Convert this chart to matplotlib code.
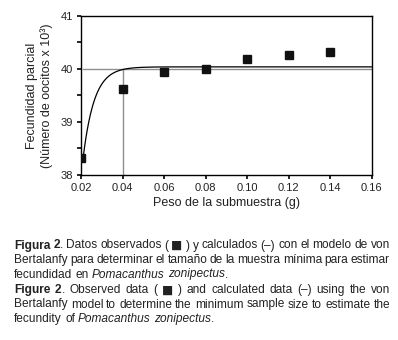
import numpy as np
import matplotlib
matplotlib.use("Agg")
import matplotlib.pyplot as plt
from matplotlib.ticker import MultipleLocator

# ---- data ----
peso = [0.02, 0.04, 0.06, 0.08, 0.10, 0.12, 0.14]
fecundidad = [38.32, 39.63, 39.94, 40.00, 40.19, 40.27, 40.32]
# von Bertalanffy fitted parameters (calculated curve)
L_inf = 40.04
K = 185.0
t0 = 0.0040
curve_start, curve_end = 0.021, 0.16
ref_x = 0.04
ref_y = 40.0
xticks = [0.02, 0.04, 0.06, 0.08, 0.10, 0.12, 0.14, 0.16]
xtick_labels = ["0.02", "0.04", "0.06", "0.08", "0.10", "0.12", "0.14", "0.16"]
yticks = [38, 39, 40, 41]
xlabel = "Peso de la submuestra (g)"
ylabel = "Fecundidad parcial\n(Número de oocitos x 10³)"

FAM = ["Liberation Sans", "DejaVu Sans"]
plt.rcParams["font.family"] = FAM

fig = plt.figure(figsize=(3.98, 3.40), dpi=100)
ax = fig.add_axes([0.2035, 0.4853, 0.9340 - 0.2035, 0.953 - 0.4853])

ax.plot([curve_start, curve_end], [ref_y, ref_y], color="#8f8f8f", lw=1.0, zorder=1)
ax.plot([ref_x, ref_x], [38, ref_y], color="#8f8f8f", lw=1.0, zorder=1)

xc = np.linspace(curve_start, curve_end, 400)
yc = L_inf * (1 - np.exp(-K * (xc - t0)))
ax.plot(xc, yc, color="black", lw=0.9, zorder=2)

ax.plot(peso, fecundidad, linestyle="none", marker="s", markersize=5.6,
        color="#111111", zorder=3)

ax.set_xlim(0.02, 0.16)
ax.set_ylim(38, 41)
ax.set_xticks(xticks)
ax.set_xticklabels(xtick_labels, fontsize=8.0)
ax.set_yticks(yticks)
ax.set_yticklabels([str(v) for v in yticks], fontsize=8.0)
ax.yaxis.set_minor_locator(MultipleLocator(0.5))
ax.tick_params(axis="both", which="both", direction="out", length=3, width=1.2,
               pad=2.5, colors="black", labelcolor="#222222")
for s in ax.spines.values():
    s.set_linewidth(1.0)

ax.set_xlabel(xlabel, fontsize=9.0, labelpad=3, color="#222222")
ax.set_ylabel(ylabel, fontsize=9.0, labelpad=6, linespacing=1.15, color="#222222")

# ---- caption (justified) ----
B = ("bold", "normal", FAM)
N = ("normal", "normal", FAM)
I = ("normal", "italic", FAM)
S = ("normal", "normal", ["DejaVu Sans"])
lines = [
    ([[("Figura", B)], [("2", B), (".", N)], [("Datos", N)], [("observados", N)],
      [("(", N)], [("■", S)], [(")", N)], [("y", N)], [("calculados", N)],
      [("(–)", N)], [("con", N)], [("el", N)], [("modelo", N)], [("de", N)],
      [("von", N)]], True),
    ([[(w, N)] for w in "Bertalanfy para determinar el tamaño de la muestra mínima para estimar".split()], True),
    ([[("fecundidad", N)], [("en", N)], [("Pomacanthus", I)], [("zonipectus", I), (".", N)]], False),
    ([[("Figure", B)], [("2", B), (".", N)], [("Observed", N)], [("data", N)],
      [("(", N)], [("■", S)], [(")", N)], [("and", N)], [("calculated", N)],
      [("data", N)], [("(–)", N)], [("using", N)], [("the", N)], [("von", N)]], True),
    ([[(w, N)] for w in "Bertalanfy model to determine the minimum sample size to estimate the".split()], True),
    ([[("fecundity", N)], [("of", N)], [("Pomacanthus", I)], [("zonipectus", I), (".", N)]], False),
]
line_y = [245.5, 260.0, 274.5, 290.0, 304.5, 319.0]
x_left, x_right = 14.0, 390.0
W, H = 398.0, 340.0

fig.canvas.draw()
renderer = fig.canvas.get_renderer()

def px(x, y):
    return x / W, 1 - y / H

def measure(txt, wt, st, fam, size):
    t = fig.text(0, 0, txt, fontsize=size, weight=wt, style=st, family=fam)
    w = t.get_window_extent(renderer).width
    t.remove()
    return w

ref_size = 10.0
min_gap = 2.2
fs = 9.0
for words, justify in lines:
    if not justify:
        continue
    wsum = sum(measure(txt, *sty, ref_size) for word in words for txt, sty in word)
    avail = x_right - x_left - min_gap * (len(words) - 1)
    fs = min(fs, ref_size * avail / wsum)

space_w = measure("a b", "normal", "normal", FAM, fs) - measure("ab", "normal", "normal", FAM, fs)

for (words, justify), yy in zip(lines, line_y):
    texts, widths = [], []
    for word in words:
        runs, wsum = [], 0
        for txt, (wt, st, fam) in word:
            t = fig.text(0, 0, txt, fontsize=fs, weight=wt, style=st, family=fam,
                         va="center", ha="left", color="#222222")
            rw = t.get_window_extent(renderer).width
            runs.append((t, rw))
            wsum += rw
        texts.append(runs)
        widths.append(wsum)
    total = sum(widths)
    if justify and len(words) > 1:
        gap = (x_right - x_left - total) / (len(words) - 1)
    else:
        gap = space_w
    x = x_left
    for runs, w in zip(texts, widths):
        xx = x
        for t, rw in runs:
            t.set_position(px(xx, yy))
            xx += rw
        x += w + gap

fig.savefig("out.png", dpi=100)
